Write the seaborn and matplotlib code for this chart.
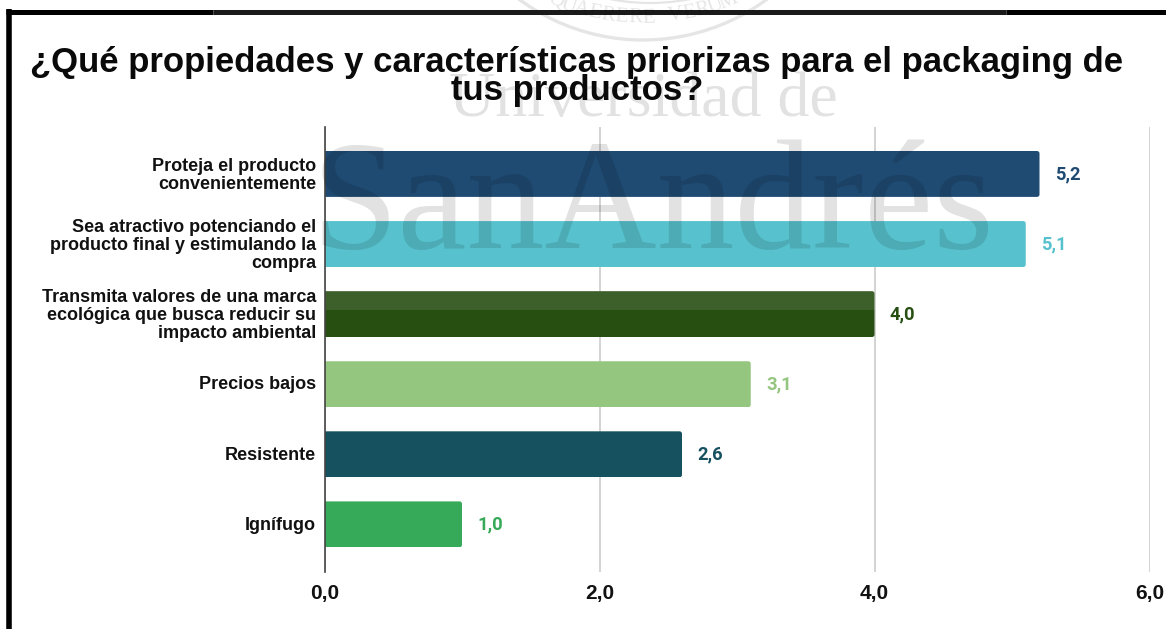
import numpy as np
import pandas as pd
import matplotlib
matplotlib.use("Agg")
import matplotlib.pyplot as plt
from matplotlib.patches import Arc, FancyBboxPatch, Rectangle
from matplotlib.transforms import ScaledTranslation
import seaborn as sns

categories = [
    "Proteja el producto\nconvenientemente",
    "Sea atractivo potenciando el\nproducto final y estimulando la\ncompra",
    "Transmita valores de una marca\necológica que busca reducir su\nimpacto ambiental",
    "Precios bajos",
    "Resistente",
    "Ignífugo",
]
values = [5.2, 5.1, 4.0, 3.1, 2.6, 1.0]
bar_colors = ["#1F4B73", "#57C2CD", "#284F12", "#95C67F", "#165160", "#36AA58"]
value_labels = ["5,2", "5,1", "4,0", "3,1", "2,6", "1,0"]
x_ticks = [0, 2, 4, 6]
x_tick_labels = ["0,0", "2,0", "4,0", "6,0"]
title_lines = ["¿Qué propiedades y características priorizas para el packaging de",
               "tus productos?"]

W, H = 1166, 629
sns.set_theme(style="white")
plt.rcParams["font.family"] = ["Liberation Sans", "DejaVu Sans"]

fig = plt.figure(figsize=(W / 100, H / 100), dpi=100, facecolor="white")
ax = fig.add_axes([324.5 / W, 1 - 572 / H, (1149.5 - 324.5) / W, (572 - 127) / H])

df = pd.DataFrame({"categoria": categories, "valor": values})
sns.barplot(data=df, y="categoria", x="valor", hue="categoria", palette=bar_colors,
            legend=False, dodge=False, width=0.655, saturation=1, linewidth=0,
            ax=ax, zorder=3)

ax.set_xlim(0, 6)
ax.set_ylim(5.68, -0.67)
ax.set_xlabel("")
ax.set_ylabel("")
ax.set_xticks(x_ticks, x_tick_labels, fontsize=15, fontweight="bold", color="#111111")
ax.tick_params(axis="x", length=0, pad=9)
ax.tick_params(axis="y", length=0, pad=6)
nudge_up = ScaledTranslation(0, 1.2 / 100, fig.dpi_scale_trans)
for lab in ax.get_yticklabels():
    lab.set_fontsize(13)
    lab.set_fontweight("bold")
    lab.set_color("#111111")
    lab.set_linespacing(1.08)
    lab.set_ha("right")
    lab.set_multialignment("right")
    lab.set_transform(lab.get_transform() + nudge_up)

ax.xaxis.grid(True, color="#CCCCCC", lw=1.2, zorder=0)
ax.set_axisbelow(True)
for side in ["top", "right", "bottom"]:
    ax.spines[side].set_visible(False)
ax.spines["left"].set_color("#444444")
ax.spines["left"].set_linewidth(1.2)
ax.spines["left"].set_zorder(5)

# Round the free end of every bar and write its value beside it
fig.canvas.draw()
for bar, text, color in zip(ax.patches, value_labels, bar_colors):
    x0, y0, x1, y1 = bar.get_window_extent().extents
    clip = FancyBboxPatch((x0 - 8, y0), x1 - x0 + 8, y1 - y0,
                          boxstyle="round,pad=0,rounding_size=2.5", transform=None)
    bar.set_clip_path(clip)
    ax.annotate(text, (bar.get_width(), bar.get_y() + bar.get_height() / 2),
                xytext=(11, 0), textcoords="offset points", va="center", ha="left",
                fontsize=13.2, fontweight="bold", family="Roboto", color=color, zorder=6)

# Lighter band on the upper part of the third bar
third = ax.patches[2]
ax.add_patch(Rectangle((0, third.get_y()), third.get_width(), third.get_height() * 0.41,
                       facecolor="white", alpha=0.10, lw=0, zorder=4))

# Pixel-space overlay for the frame, the seal and the lettering
ov = fig.add_axes([0, 0, 1, 1], facecolor="none")
ov.set_xlim(0, W)
ov.set_ylim(H, 0)
ov.axis("off")
ov.set_zorder(10)

ov.plot([8.5, 8.5], [H, 9], color="black", lw=4, solid_capstyle="butt")
ov.plot([6, 213], [11.5, 11.5], color="black", lw=3.6, solid_capstyle="butt")
ov.plot([213, 1006], [11.5, 11.5], color="#1A1A1A", lw=3.6, solid_capstyle="butt")
ov.plot([1006, W], [11.5, 11.5], color="black", lw=3.6, solid_capstyle="butt")

mark = dict(color="black", alpha=0.115, family="Liberation Serif")
ov.text(653, 248, "SanAndrés", fontsize=112, ha="center", va="baseline", **mark)
ov.text(643, 116, "Universidad de", fontsize=46, ha="center", va="baseline", **mark)

# University seal, cut by the top edge
ring_radius = 209
ov.add_patch(Arc((643, 40 - ring_radius), ring_radius * 2, ring_radius * 2,
                 theta1=40, theta2=140, color="black", alpha=0.10, lw=2.4))
ov.add_patch(Arc((650, 3 - ring_radius), ring_radius * 2, ring_radius * 2,
                 theta1=75, theta2=105, color="black", alpha=0.10, lw=1.6))
letters = "QUAERERE VERUM"
radius = 230
step = 3.4
for i, ch in enumerate(letters):
    deg = 90 - (i - (len(letters) - 1) / 2) * step
    ang = np.deg2rad(deg)
    ov.text(642 + radius * np.cos(ang), 18 - radius + radius * np.sin(ang), ch,
            fontsize=15, rotation=90 - deg, ha="center", va="center",
            rotation_mode="anchor", color="black", alpha=0.10, family="Liberation Serif")

for (y, line) in zip((72, 100), title_lines):
    ov.text(577, y, line, fontsize=25, fontweight="bold", ha="center", va="baseline",
            color="#0A0A0A")

fig.savefig("out.png", dpi=100, facecolor="white")
